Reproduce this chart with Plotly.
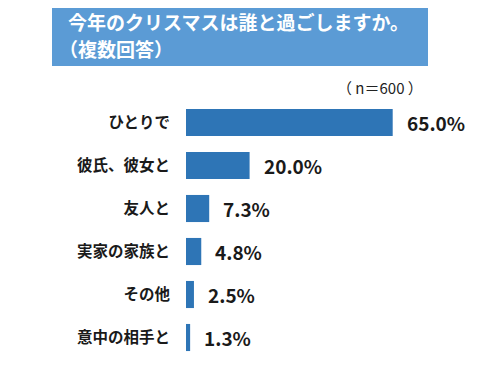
import plotly.graph_objects as go

categories = ["ひとりで", "彼氏、彼女と", "友人と", "実家の家族と", "その他", "意中の相手と"]
values = [65.0, 20.0, 7.3, 4.8, 2.5, 1.3]
value_labels = ["65.0%", "20.0%", "7.3%", "4.8%", "2.5%", "1.3%"]
title_lines = ["今年のクリスマスは誰と過ごしますか。", "（複数回答）"]
note = "（ n＝600 ）"

FONT = "Noto Sans CJK JP"
OFF = 8  # page body margin
W, H = 500 - OFF, 386 - OFF
L, R, T, B = 186 - OFF, 14, 101 - OFF, 35 - OFF
pw, ph = W - L - R, H - T - B

def px_x(px):
    return (px - OFF - L) / pw

def px_y(py):
    return (H - B - (py - OFF)) / ph

fig = go.Figure(go.Bar(
    x=values, y=categories, orientation="h",
    marker=dict(color="#2E75B6", line=dict(width=0)),
    width=0.63, hoverinfo="skip",
))

annotations = []
for c, v, t in zip(categories, values, value_labels):
    annotations.append(dict(x=v, y=c, xref="x", yref="y", text=f"<b>{t}</b>",
                            showarrow=False, xanchor="left", xshift=12,
                            font=dict(family=FONT, size=19, color="#1a1a1a")))

annotations.append(dict(x=px_x(66), y=px_y(22), xref="paper", yref="paper",
                        text=f"<b>{title_lines[0]}</b>", showarrow=False,
                        xanchor="left", yanchor="middle",
                        font=dict(family=FONT, size=19, color="white")))
annotations.append(dict(x=px_x(57), y=px_y(48), xref="paper", yref="paper",
                        text=f"<b>{title_lines[1]}</b>", showarrow=False,
                        xanchor="left", yanchor="middle",
                        font=dict(family=FONT, size=19, color="white")))
annotations.append(dict(x=px_x(425), y=px_y(88), xref="paper", yref="paper",
                        text=note, showarrow=False,
                        xanchor="right", yanchor="middle",
                        font=dict(family=FONT, size=15, color="#222")))

fig.update_layout(
    width=W, height=H,
    margin=dict(l=L, r=R, t=T, b=B),
    paper_bgcolor="white", plot_bgcolor="white",
    showlegend=False,
    xaxis=dict(range=[0, pw / 3.18], visible=False, fixedrange=True),
    yaxis=dict(autorange="reversed", showgrid=False, zeroline=False,
               showline=False, ticks="", ticklabelstandoff=15, automargin=False,
               tickfont=dict(family=FONT, size=15.5, color="#1a1a1a", weight="bold")),
    shapes=[dict(type="rect", xref="paper", yref="paper",
                 x0=px_x(52), x1=px_x(428), y0=px_y(66), y1=px_y(4),
                 fillcolor="#5B9BD5", line=dict(width=0), layer="below")],
    annotations=annotations,
)

fig.write_html("out.html")
